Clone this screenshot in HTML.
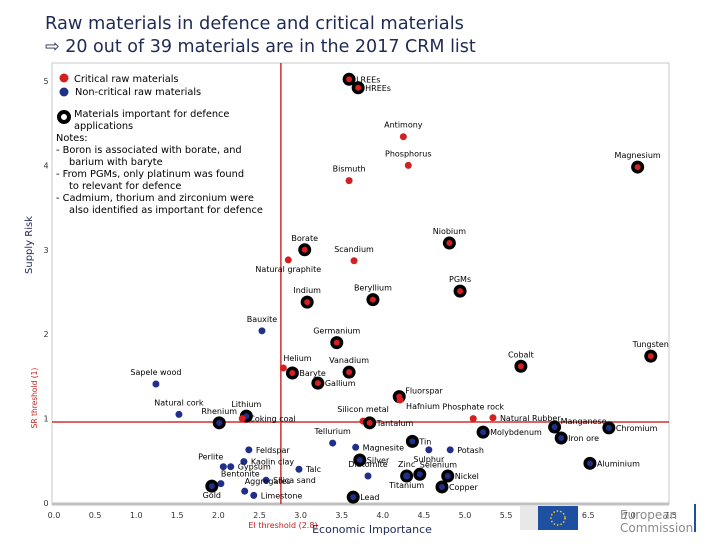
<!DOCTYPE html>
<html><head><meta charset="utf-8">
<style>
body{margin:0;width:720px;height:540px;background:#fff;overflow:hidden;font-family:"DejaVu Sans","Liberation Sans",sans-serif}
svg text{font-family:"DejaVu Sans","Liberation Sans",sans-serif}
</style></head>
<body>
<svg id="c" width="720" height="540" viewBox="0 0 720 540">
<text x="45" y="29" font-size="17.8" fill="#1f2a55">Raw materials in defence and critical materials</text>
<text x="45" y="52" font-size="17.5" fill="#1f2a55">⇨ 20 out of 39 materials are in the 2017 CRM list</text>
<rect x="52" y="63" width="617" height="441" fill="none" stroke="#c8c8c8" stroke-width="1"/>
<line x1="52" y1="504" x2="669" y2="504" stroke="#c0c0c0" stroke-width="3"/>
<g id="ticks"></g>
<g id="thr"></g>
<g id="pts"></g>
<g font-size="9.8" fill="#000">
<circle cx="64" cy="78" r="4.5" fill="#d42020"/>
<text x="74" y="82">Critical raw materials</text>
<circle cx="64" cy="92" r="4.5" fill="#1f2f8a"/>
<text x="75" y="95">Non-critical raw materials</text>
<circle cx="64" cy="117" r="5" fill="#fff" stroke="#000" stroke-width="4"/>
<text font-size="9.8">
<tspan x="74" y="117">Materials important for defence</tspan>
<tspan x="74" y="129">applications</tspan>
<tspan x="56" y="141">Notes:</tspan>
<tspan x="56" y="153">-  Boron is associated with borate, and</tspan>
<tspan x="69" y="165">barium with baryte</tspan>
<tspan x="56" y="177">-  From PGMs, only platinum was found</tspan>
<tspan x="69" y="189">to relevant for defence</tspan>
<tspan x="56" y="201">-  Cadmium, thorium and zirconium were</tspan>
<tspan x="69" y="213">also identified as important for defence</tspan>
</text>
</g>
<text transform="translate(32,245) rotate(-90)" text-anchor="middle" font-size="10" fill="#1f2a55">Supply Risk</text>
<text transform="translate(37,398) rotate(-90)" text-anchor="middle" font-size="7.5" fill="#c02020">SR threshold (1)</text>
<text x="283" y="528" text-anchor="middle" font-size="8" fill="#c02020">EI threshold (2.8)</text>
<text x="372" y="533" text-anchor="middle" font-size="11" fill="#1f2a55">Economic Importance</text>
<g>
<rect x="520" y="506" width="18" height="24" fill="#e8e8e8"/>
<rect x="538" y="506" width="40" height="24" fill="#1f4fa0"/>
<circle cx="558" cy="518" r="7" fill="none" stroke="#f0d020" stroke-width="1.5" stroke-dasharray="1.5 2"/>
<text x="620" y="519" font-size="12" fill="#8a8a8a">European</text>
<text x="620" y="532" font-size="12" fill="#8a8a8a">Commission</text>
<rect x="694" y="504" width="2" height="28" fill="#1f4fa0"/>
</g>
</svg>
<script>
const names=["LREEs","HREEs","Antimony","Phosphorus","Magnesium","Bismuth","Niobium","Borate","Natural graphite","Scandium","Indium","Beryllium","PGMs","Bauxite","Germanium","Tungsten","Cobalt","Helium","Baryte","Vanadium","Gallium","Sapele wood","Fluorspar","Hafnium","Natural cork","Rhenium","Lithium","Coking coal","Silicon metal","Tantalum","Phosphate rock","Natural Rubber","Manganese","Chromium","Molybdenum","Iron ore","Tellurium","Magnesite","Tin","Feldspar","Sulphur","Potash","Silver","Kaolin clay","Perlite","Gypsum","Talc","Aluminium","Zinc","Selenium","Titanium","Diatomite","Nickel","Bentonite","Gold","Silica sand","Copper","Aggregates","Limestone","Lead"];
const ei=[3.59,3.70,4.25,4.31,7.10,3.59,4.81,3.05,2.85,3.65,3.08,3.88,4.94,2.53,3.44,7.26,5.68,2.79,2.90,3.59,3.21,1.24,4.20,4.21,1.52,2.01,2.34,2.29,3.76,3.84,5.10,5.34,6.09,6.75,5.22,6.17,3.39,3.67,4.36,2.37,4.56,4.82,3.72,2.31,2.06,2.15,2.98,6.52,4.29,4.45,4.29,3.82,4.79,2.03,1.92,2.58,4.72,2.32,2.43,3.64];
const sr=[5.02,4.92,4.34,4.00,3.98,3.82,3.08,3.00,2.88,2.87,2.38,2.41,2.51,2.04,1.90,1.74,1.62,1.60,1.54,1.55,1.42,1.41,1.26,1.22,1.05,0.95,1.03,1.00,0.97,0.95,1.00,1.01,0.90,0.89,0.84,0.77,0.71,0.66,0.73,0.63,0.63,0.63,0.51,0.49,0.43,0.43,0.40,0.47,0.32,0.34,0.32,0.32,0.32,0.23,0.20,0.27,0.19,0.14,0.09,0.07];
const critical=[1,1,1,1,1,1,1,1,1,1,1,1,1,0,1,1,1,1,1,1,1,0,1,1,0,0,0,1,1,1,1,1,0,0,0,0,0,0,0,0,0,0,0,0,0,0,0,0,0,0,0,0,0,0,0,0,0,0,0,0];
const defence=[1,1,0,0,1,0,1,1,0,0,1,1,1,0,1,1,1,0,1,1,1,0,1,0,0,1,1,0,0,1,0,0,1,1,1,1,0,0,1,0,0,0,1,0,0,0,0,1,1,1,0,0,1,0,1,0,1,0,0,1];
const labelSide=["r","r","t","t","t","t","t","t","b","t","t","t","t","t","t","t","t","tr","r","t","r","t","ru","rd","t","t","t","r","t","r","t","r","ru","r","r","r","t","r","r","r","b","r","r","r","tl","r","r","r","t","tr","b","t","r","tr","b","r","r","tr","r","r"];
const xTicks=[0,0.5,1,1.5,2,2.5,3,3.5,4,4.5,5,5.5,6,6.5,7,7.5];
const xTickLabels=["0.0","0.5","1.0","1.5","2.0","2.5","3.0","3.5","4.0","4.5","5.0","5.5","6.0","6.5","7.0","7.5"];
const yTicks=[0,1,2,3,4,5];
const eiThreshold=2.76, srThreshold=0.96;

const X=v=>54+v*82.2, Y=v=>503-v*84.4;
const NS="http://www.w3.org/2000/svg";
function mk(tag,attrs,parent,txt){const e=document.createElementNS(NS,tag);for(const k in attrs)e.setAttribute(k,attrs[k]);if(txt!==undefined)e.textContent=txt;parent.appendChild(e);return e;}
const tk=document.getElementById('ticks');
xTicks.forEach((v,i)=>{const t=mk('text',{x:X(v),y:518,'text-anchor':'middle','font-size':8,fill:'#333'},tk,xTickLabels[i]);

});
yTicks.forEach(v=>{const t=mk('text',{x:46,y:Y(v)+3,'text-anchor':'middle','font-size':8,fill:'#333'},tk,String(v));

});
const th=document.getElementById('thr');
const vl=mk('line',{x1:X(eiThreshold),x2:X(eiThreshold),y1:63,y2:504,stroke:'#d03030','stroke-width':1.5},th);


const hl=mk('line',{x1:52,x2:669,y1:Y(srThreshold),y2:Y(srThreshold),stroke:'#d03030','stroke-width':1.5},th);


const pg=document.getElementById('pts');
names.forEach((n,i)=>{
 const cx=X(ei[i]),cy=Y(sr[i]);
 const g=mk('g',{},pg);
 
 
 if(defence[i]) mk('circle',{cx,cy,r:6.5,fill:'#000'},g);
 mk('circle',{cx,cy,r:defence[i]?3:3.5,fill:critical[i]?'#d42020':'#1f2f8a'},g);
 const s=labelSide[i];let x=cx,y=cy,a='middle';
 if(s==='t'){y=cy-9;}else if(s==='b'){y=cy+12;}else if(s==='r'){x=cx+7;y=cy+3;a='start';}
 else if(s==='ru'){x=cx+6;y=cy-3;a='start';}else if(s==='rd'){x=cx+6;y=cy+9;a='start';}
 else if(s==='tr'){x=cx;y=cy-7;a='start';}else if(s==='tl'){x=cx;y=cy-7;a='end';}
 mk('text',{x,y,'text-anchor':a,'font-size':8,fill:'#000'},g,n);
});
</script>
</body></html>
